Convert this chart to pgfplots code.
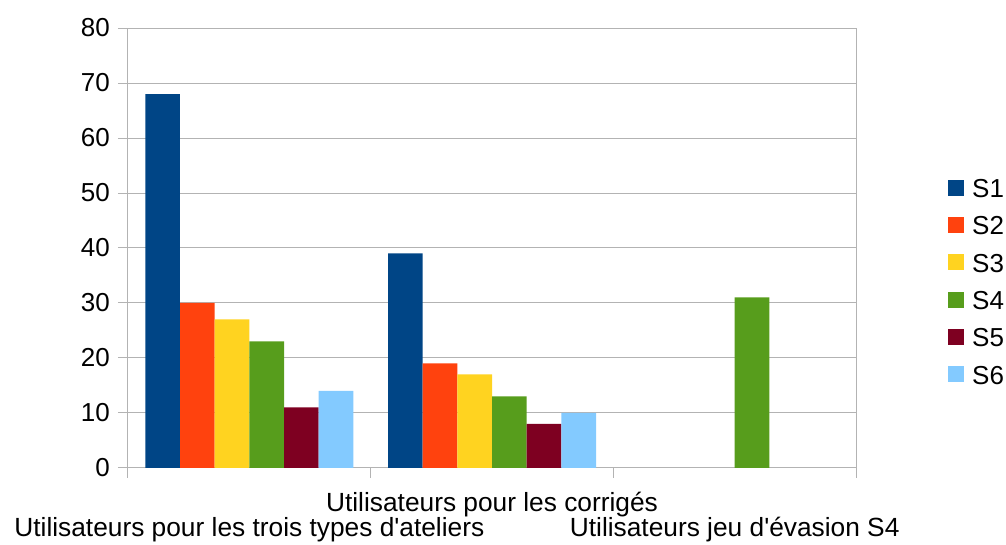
\documentclass[border=0pt]{standalone}
\usepackage{fontspec}
\setmainfont{Liberation Sans}
\usepackage{pgfplots}
\pgfplotsset{compat=1.18}
\definecolor{c1}{HTML}{004586}
\definecolor{c2}{HTML}{FF420E}
\definecolor{c3}{HTML}{FFD320}
\definecolor{c4}{HTML}{579D1C}
\definecolor{c5}{HTML}{7E0021}
\definecolor{c6}{HTML}{83CAFF}
\definecolor{gridgray}{HTML}{B3B3B3}
\begin{document}
\begin{tikzpicture}
\path[use as bounding box] (-128pt,-77pt) rectangle (878pt,468pt);
\begin{axis}[
  at={(0pt,0pt)}, anchor=south west,
  width=728pt, height=440pt, scale only axis,
  xmin=-0.5, xmax=2.5, ymin=0, ymax=80,
  ytick={0,10,...,80},
  ymajorgrids,
  major grid style={gridgray, line width=1pt},
  axis line style={gridgray, line width=1pt},
  tick style={gridgray, line width=1pt},
  tick align=outside, major tick length=10pt,
  tick pos=left,
  xtick={-0.5,0.5,1.5,2.5}, xticklabels={},
  extra x ticks={0,1,2},
  extra x tick labels={{\raisebox{-25pt}{Utilisateurs pour les trois types d\textquotesingle ateliers}},{Utilisateurs pour les corrigés},{\raisebox{-25pt}{Utilisateurs jeu d\textquotesingle évasion S4}}},
  extra x tick style={major tick length=0pt, grid=none,
     xticklabel style={anchor=base, inner sep=0pt, yshift=-44pt, font=\fontsize{26.3}{30}\selectfont}},
  /pgf/number format/assume math mode=true,
  yticklabel style={font=\fontsize{26}{30}\selectfont, anchor=east, inner sep=0pt, xshift=-8pt},
  ybar=0pt, bar width=0.142857,
  legend style={at={(1.1264,0.423)}, anchor=west, draw=none, fill=none, inner sep=0pt,
     font=\fontsize{26}{30}\selectfont, row sep=19.3pt,
     nodes={inner sep=0pt, text height=18pt, text depth=0pt},
     /tikz/every odd column/.append style={column sep=8pt}},
  legend cell align=left,
  legend image code/.code={\fill[#1] (0pt,-7pt) rectangle (16pt,9pt);},
]
\addplot[draw=none, fill=c1, bar shift=-0.357143] coordinates {(0,68) (1,39)};
\addplot[draw=none, fill=c2, bar shift=-0.214286] coordinates {(0,30) (1,19)};
\addplot[draw=none, fill=c3, bar shift=-0.071429] coordinates {(0,27) (1,17)};
\addplot[draw=none, fill=c4, bar shift=0.071429] coordinates {(0,23) (1,13) (2,31)};
\addplot[draw=none, fill=c5, bar shift=0.214286] coordinates {(0,11) (1,8)};
\addplot[draw=none, fill=c6, bar shift=0.357143] coordinates {(0,14) (1,10)};
\legend{S1,S2,S3,S4,S5,S6}
\end{axis}
\end{tikzpicture}
\end{document}
